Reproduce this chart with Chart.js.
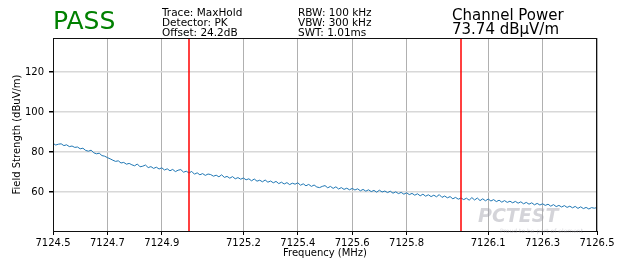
<!DOCTYPE html>
<html>
<head>
<meta charset="utf-8">
<script src="https://cdn.jsdelivr.net/npm/chart.js@4.4.0/dist/chart.umd.min.js"></script>
<style>
  html, body { margin: 0; padding: 0; background: #fff; }
  #wrap { width: 621px; height: 260px; }
</style>
</head>
<body>
<div id="wrap"><canvas id="spectrumChart" width="621" height="260"></canvas></div>
<script>
// sweep: 7124.5 .. 7126.5 MHz, 0.01 MHz per point
const freqStart = 7124.5;
const freqStep = 0.01;

// trace values (dBuV/m)
const traceValues = [
  84.3, 83.5, 83.9, 84.1, 83.2, 83.6, 82.7, 83.0, 82.3, 82.5,
  81.6, 81.9, 80.8, 80.4, 80.9, 79.6, 79.1, 79.4, 78.2, 77.9,
  77.2, 76.6, 75.9, 75.3, 75.6, 74.5, 74.8, 73.9, 74.3, 73.6,
  73.1, 74.0, 72.6, 72.9, 73.5, 72.2, 72.7, 71.8, 72.4, 71.5,
  72.1, 71.0, 71.6, 70.6, 71.3, 70.2, 70.9, 71.2, 69.9, 70.4,
  69.5, 70.3, 68.9, 69.6, 68.6, 69.2, 68.3, 69.0, 68.7, 67.9,
  68.4, 67.6, 68.6, 67.3, 67.8, 66.9, 67.7, 66.6, 67.2, 66.4,
  67.0, 66.1, 66.6, 65.6, 66.5, 65.4, 65.9, 65.1, 66.0, 64.9,
  65.5, 64.6, 65.3, 64.2, 64.9, 64.0, 64.7, 63.7, 64.4, 63.9,
  64.6, 63.4, 64.1, 63.1, 63.8, 62.8, 63.5, 62.5, 62.2, 62.8,
  63.2, 62.1, 62.8, 61.8, 62.6, 61.5, 62.2, 61.3, 61.9, 61.1,
  61.8, 61.0, 61.6, 60.6, 61.3, 60.4, 61.1, 60.2, 60.8, 59.9,
  60.9, 60.0, 60.5, 59.7, 60.4, 59.4, 60.1, 59.2, 59.8, 58.9,
  59.6, 58.7, 59.3, 58.4, 59.1, 58.1, 58.9, 57.9, 58.6, 57.7,
  58.4, 57.6, 58.7, 57.3, 58.0, 57.1, 57.7, 56.6, 57.3, 56.4,
  57.0, 56.2, 56.9, 55.9, 57.2, 56.0, 57.0, 55.7, 56.6, 55.6,
  56.5, 55.5, 56.2, 55.2, 55.9, 54.9, 55.7, 54.8, 55.4, 54.6,
  55.3, 54.4, 55.1, 54.1, 54.8, 53.9, 54.6, 53.6, 54.3, 53.5,
  54.1, 53.3, 53.9, 52.9, 53.7, 52.7, 53.3, 52.5, 53.2, 52.3,
  52.9, 52.1, 52.8, 51.8, 52.6, 51.7, 52.3, 51.5, 52.2, 51.9,
  52.2
];

// channel edges (red lines)
const markerFreqs = [7125.0, 7126.0];

// axis ticks
const xTicks = [7124.5, 7124.7, 7124.9, 7125.2, 7125.4, 7125.6, 7125.8, 7126.1, 7126.3, 7126.5];
const yTicks = [60, 80, 100, 120];
const yMin = 40.5;
const yMax = 137;

// header texts
const verdict = "PASS";
const settingsLeft = ["Trace: MaxHold", "Detector: PK", "Offset: 24.2dB"];
const settingsRight = ["RBW: 100 kHz", "VBW: 300 kHz", "SWT: 1.01ms"];
const powerTitle = "Channel Power";
const powerValue = "73.74 dB\u03bcV/m";

const FONT = "'DejaVu Sans', Verdana, sans-serif";

const tracePoints = traceValues.map((v, i) => ({ x: freqStart + i * freqStep, y: v }));
const markerSets = markerFreqs.map(f => ({
  data: [{ x: f, y: yMin }, { x: f, y: yMax }],
  borderColor: "#ff0000",
  borderWidth: 1.5,
  pointRadius: 0,
  order: 0,
}));

const headerPlugin = {
  id: "header",
  afterDraw(chart) {
    const ctx = chart.ctx;
    const area = chart.chartArea;
    ctx.save();
    // frame round the plot
    ctx.strokeStyle = "#111";
    ctx.lineWidth = 1;
    ctx.strokeRect(Math.round(area.left) + 0.5, Math.round(area.top) + 0.5,
      Math.round(area.right - area.left) - 1, Math.round(area.bottom - area.top));

    // watermark
    ctx.fillStyle = "rgba(160,160,170,0.45)";
    ctx.font = "italic bold 19px " + FONT;
    ctx.textBaseline = "alphabetic";
    ctx.fillText("PCTEST", 478, 222);
    ctx.font = "6px " + FONT;
    ctx.fillText("Proud to be part of element", 500, 233);

    ctx.textBaseline = "middle";
    ctx.fillStyle = "#008000";
    ctx.font = "25px " + FONT;
    ctx.fillText(verdict, 53, 22);

    ctx.fillStyle = "#000";
    ctx.font = "10.5px " + FONT;
    settingsLeft.forEach((t, i) => ctx.fillText(t, 162, 13 + i * 10.3));
    settingsRight.forEach((t, i) => ctx.fillText(t, 298, 13 + i * 10.3));

    ctx.font = "15px " + FONT;
    ctx.fillText(powerTitle, 452, 16);
    ctx.fillText(powerValue, 452, 30);
    ctx.restore();
  },
};

const spectrumChart = new Chart(document.getElementById("spectrumChart"), {
  type: "line",
  data: {
    datasets: [
      {
        data: tracePoints,
        borderColor: "#1f77b4",
        borderWidth: 1,
        pointRadius: 0,
        tension: 0,
        order: 1,
      },
      ...markerSets,
    ],
  },
  options: {
    responsive: false,
    animation: false,
    events: [],
    layout: { padding: { left: 0, right: 24, top: 38, bottom: 0 } },
    plugins: { legend: { display: false }, tooltip: { enabled: false } },
    scales: {
      x: {
        type: "linear",
        min: 7124.5,
        max: 7126.5,
        afterBuildTicks: (scale) => { scale.ticks = xTicks.map(v => ({ value: v })); },
        afterFit: (scale) => { scale.height = 29; },
        grid: { color: "#b0b0b0", lineWidth: 1, tickColor: "#000", tickLength: 4 },
        border: { display: false },
        ticks: {
          color: "#000",
          font: { family: FONT, size: 10 },
          padding: 2,
          maxRotation: 0,
          autoSkip: false,
          callback: (v) => v.toFixed(1),
        },
        title: {
          display: true,
          text: "Frequency (MHz)",
          color: "#000",
          font: { family: FONT, size: 10 },
          padding: { top: 0, bottom: 1 },
        },
      },
      y: {
        min: yMin,
        max: yMax,
        afterBuildTicks: (scale) => { scale.ticks = yTicks.map(v => ({ value: v })); },
        afterFit: (scale) => { scale.width = 53; },
        grid: { color: "#d8d8d8", lineWidth: 1.5, tickColor: "#000", tickLength: 4 },
        border: { display: false },
        ticks: {
          color: "#000",
          font: { family: FONT, size: 10 },
          padding: 5,
        },
        title: {
          display: true,
          text: "Field Strength (dBuV/m)",
          color: "#000",
          font: { family: FONT, size: 10 },
          padding: { top: 11, bottom: 0 },
        },
      },
    },
  },
  plugins: [headerPlugin],
});
</script>
</body>
</html>
